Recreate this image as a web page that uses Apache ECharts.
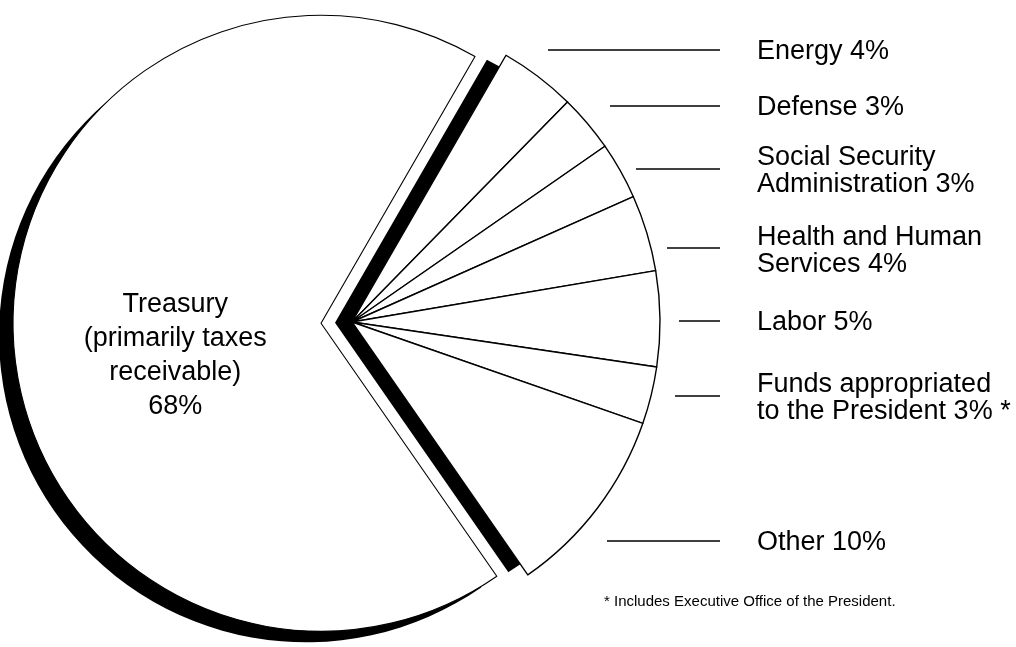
<!DOCTYPE html>
<html>
<head>
<meta charset="utf-8">
<script src="https://cdn.jsdelivr.net/npm/echarts@6/dist/echarts.min.js"></script>
<style>
  html, body { margin: 0; padding: 0; background: #fff; }
  #chart { width: 1016px; height: 647px; }
</style>
</head>
<body>
<div id="chart"></div>
<script>
// ---- data ----
const categories = [
  'Energy',
  'Defense',
  'Social Security\nAdministration',
  'Health and Human\nServices',
  'Labor',
  'Funds appropriated\nto the President',
  'Other',
  'Treasury\n(primarily taxes\nreceivable)'
];
const shares = [4, 3, 3, 4, 5, 3, 10, 68];
const footnoteMarks = ['', '', '', '', '', ' *', '', ''];
const footnoteText = '* Includes Executive Office of the President.';
const explodedName = categories[7];

// ---- layout (not data) ----
const labelY = [52, 108, 171, 251, 323, 398, 543];
const leaderY = [50, 106, 169, 248, 321, 396, 541];
const leaderStartX = [548, 610, 636, 667, 679, 675, 607];
const leaderEndX = 720;
const labelX = 757;

const FONT = '"Liberation Sans", Arial, Helvetica, sans-serif';
const CX = 352, CY = 322, R = 308;
const START = 60;

const chart = echarts.init(document.getElementById('chart'), null, { renderer: 'canvas' });

function makeData(treasuryStyle, otherStyle, selected) {
  return categories.map((name, i) => {
    const isT = name === explodedName;
    return {
      name: name,
      value: shares[i],
      selected: isT && selected,
      itemStyle: isT ? treasuryStyle : otherStyle
    };
  });
}
const hidden = { color: 'rgba(0,0,0,0)', borderWidth: 0 };
const baseSeries = {
  type: 'pie',
  startAngle: START,
  clockwise: true,
  avoidLabelOverlap: false,
  silent: true,
  animation: false,
  label: { show: false },
  labelLine: { show: false },
  emphasis: { disabled: true },
  selectedMode: 'single'
};

const mainData = categories.map((name, i) => {
  const isT = name === explodedName;
  return {
    name: name,
    value: shares[i],
    selected: isT,
    itemStyle: isT
      ? { color: '#ffffff', borderColor: '#000', borderWidth: 1.1 }
      : { color: '#ffffff', borderColor: '#000', borderWidth: 1.4 },
    label: isT ? {
      position: 'inside',
      lineHeight: 34,
      padding: [0, 0, 0, 22],
      rich: { gap: { height: 52, lineHeight: 52 } }
    } : {},
    labelLine: isT ? { show: false } : { show: true }
  };
});

chart.setOption({
  backgroundColor: '#ffffff',
  animation: false,
  title: {
    text: footnoteText,
    left: 604,
    top: 594,
    padding: 0,
    textStyle: { fontFamily: FONT, fontSize: 15, fontWeight: 'normal', color: '#000' }
  },
  series: [
    // black band between exploded slice and the rest (unexploded copy)
    Object.assign({}, baseSeries, {
      name: 'band',
      center: [CX, CY],
      radius: R - 13,
      data: makeData({ color: '#000', borderWidth: 0 }, hidden, false)
    }),
    // white mask that leaves only a narrow band visible
    Object.assign({}, baseSeries, {
      name: 'mask',
      center: [CX, CY],
      radius: R,
      selectedOffset: 17,
      data: makeData({ color: '#fff', borderWidth: 0 }, hidden, true)
    }),
    // drop shadow on the outer arc of the exploded slice
    Object.assign({}, baseSeries, {
      name: 'arcShadow',
      center: [CX - 15, CY + 12],
      radius: R - 1,
      selectedOffset: 31,
      data: makeData({ color: '#000', borderWidth: 0 }, hidden, true)
    }),
    // main pie
    {
      type: 'pie',
      name: 'main',
      center: [CX, CY],
      radius: R,
      startAngle: START,
      clockwise: true,
      avoidLabelOverlap: false,
      silent: true,
      animation: false,
      selectedMode: 'single',
      selectedOffset: 31,
      emphasis: { disabled: true },
      label: {
        show: true,
        position: 'outside',
        overflow: 'none',
        fontFamily: FONT,
        fontSize: 27,
        lineHeight: 27,
        color: '#000',
        formatter: (p) => {
          const i = p.dataIndex;
          if (p.name === explodedName) return '{gap|}\n' + p.name + '\n' + p.value + '%';
          return p.name + ' ' + p.value + '%' + footnoteMarks[i];
        }
      },
      labelLine: {
        show: true,
        lineStyle: { color: '#000', width: 1.5 }
      },
      labelLayout: (params) => {
        const i = params.dataIndex;
        if (categories[i] === explodedName) return {};
        const y = leaderY[i];
        return {
          x: labelX,
          y: labelY[i],
          align: 'left',
          verticalAlign: 'middle',
          labelLinePoints: [
            [leaderStartX[i], y],
            [(leaderStartX[i] + leaderEndX) / 2, y],
            [leaderEndX, y]
          ]
        };
      },
      data: mainData
    }
  ]
});
</script>
</body>
</html>
